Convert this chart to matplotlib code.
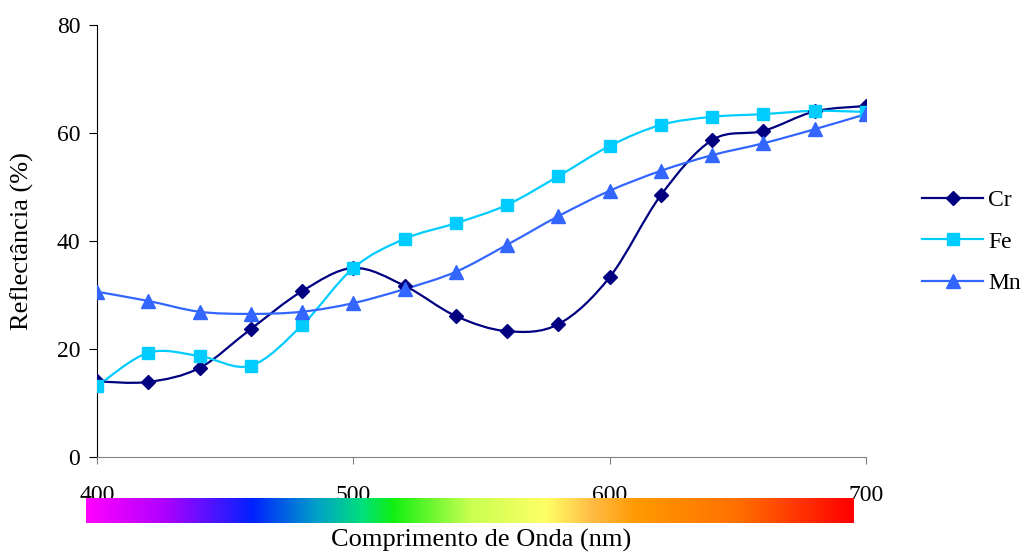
import numpy as np
import matplotlib
matplotlib.use("Agg")
import matplotlib.pyplot as plt
from matplotlib.path import Path
from matplotlib.patches import PathPatch
from matplotlib.lines import Line2D
from matplotlib.colors import LinearSegmentedColormap

wavelength = [400, 420, 440, 460, 480, 500, 520, 540, 560, 580, 600, 620, 640, 660, 680, 700]
cr = [14.0, 13.9, 16.5, 23.7, 30.7, 35.0, 31.7, 26.1, 23.3, 24.6, 33.3, 48.5, 58.7, 60.4, 64.0, 65.0]
fe = [13.1, 19.3, 18.7, 16.9, 24.4, 35.0, 40.4, 43.3, 46.7, 52.0, 57.6, 61.5, 63.0, 63.5, 64.1, 63.9]
mn = [30.6, 28.9, 26.9, 26.5, 26.9, 28.5, 31.1, 34.3, 39.3, 44.6, 49.3, 53.0, 55.9, 58.1, 60.7, 63.5]
series_names = ["Cr", "Fe", "Mn"]
series_colors = ["#000080", "#00CCFF", "#3366FF"]
series_markers = ["D", "s", "^"]
marker_sizes = [7.5, 8.5, 10]
xticks = [400, 500, 600, 700]
yticks = [0, 20, 40, 60, 80]

plt.rcParams['font.family'] = ['Liberation Serif', 'DejaVu Serif']
plt.rcParams['font.size'] = 17

fig = plt.figure(figsize=(10.27, 5.52), dpi=100)
ax = fig.add_axes([97/1027, 1-457/552, (866-97)/1027, (457-25)/552])


def smooth_path(x, y):
    x = np.asarray(x, float); y = np.asarray(y, float)
    n = len(x)
    verts = [(x[0], y[0])]
    codes = [Path.MOVETO]
    for i in range(n - 1):
        p0 = (x[i-1], y[i-1]) if i > 0 else (x[i], y[i])
        p1 = (x[i], y[i]); p2 = (x[i+1], y[i+1])
        p3 = (x[i+2], y[i+2]) if i + 2 < n else (x[i+1], y[i+1])
        c1 = (p1[0] + (p2[0]-p0[0])/6, p1[1] + (p2[1]-p0[1])/6)
        c2 = (p2[0] - (p3[0]-p1[0])/6, p2[1] - (p3[1]-p1[1])/6)
        verts += [c1, c2, p2]
        codes += [Path.CURVE4]*3
    return Path(verts, codes)

handles = []
for vals, name, col, mk, ms in zip([cr, fe, mn], series_names, series_colors, series_markers, marker_sizes):
    patch = PathPatch(smooth_path(wavelength, vals), facecolor='none', edgecolor=col, lw=1.6, zorder=2)
    ax.add_patch(patch)
    ax.plot(wavelength, vals, linestyle='none', marker=mk, ms=ms, color=col, zorder=3)
    handles.append(Line2D([], [], color=col, lw=1.6, marker=mk, ms=ms, label=name))

ax.set_xlim(400, 700)
ax.set_ylim(0, 80)
ax.set_xticks(xticks)
ax.set_yticks(yticks)
ax.spines['top'].set_visible(False)
ax.spines['right'].set_visible(False)
ax.spines['bottom'].set_color('#808080')
ax.spines['left'].set_color('black')
ax.tick_params(axis='x', direction='out', length=5, colors='#808080', labelcolor='black', pad=15)
ax.tick_params(axis='y', direction='out', length=6, pad=6)
ax.set_ylabel("Reflectância (%)", labelpad=16, fontsize=19)

leg = fig.legend(handles=handles, loc='center left', bbox_to_anchor=(922/1027, 1-242/552),
                 frameon=False, borderpad=0, borderaxespad=0, handlelength=2.6,
                 labelspacing=0.85, handletextpad=0.2, fontsize=17)

# spectrum bar
cax = fig.add_axes([86/1027, 1-523/552, (854-86)/1027, 25/552])
spec = LinearSegmentedColormap.from_list('spec', [
    (0.0, '#FF00FF'), (0.1, '#B000FF'), (0.216, '#0022FF'), (0.3, '#00A0C8'),
    (0.36, '#00E07A'), (0.40, '#11F011'), (0.5, '#C8FF50'), (0.6, '#FFFF66'),
    (0.66, '#FFBB44'), (0.72, '#FF9900'), (0.85, '#FF7000'), (1.0, '#FF0000')])
cax.imshow(np.linspace(0, 1, 512)[None, :], aspect='auto', cmap=spec, extent=[0, 1, 0, 1])
cax.set_axis_off()

fig.text(481/1027, 1-540/552, "Comprimento de Onda (nm)", ha='center', va='center', fontsize=19)

fig.savefig("out.png", dpi=100)
